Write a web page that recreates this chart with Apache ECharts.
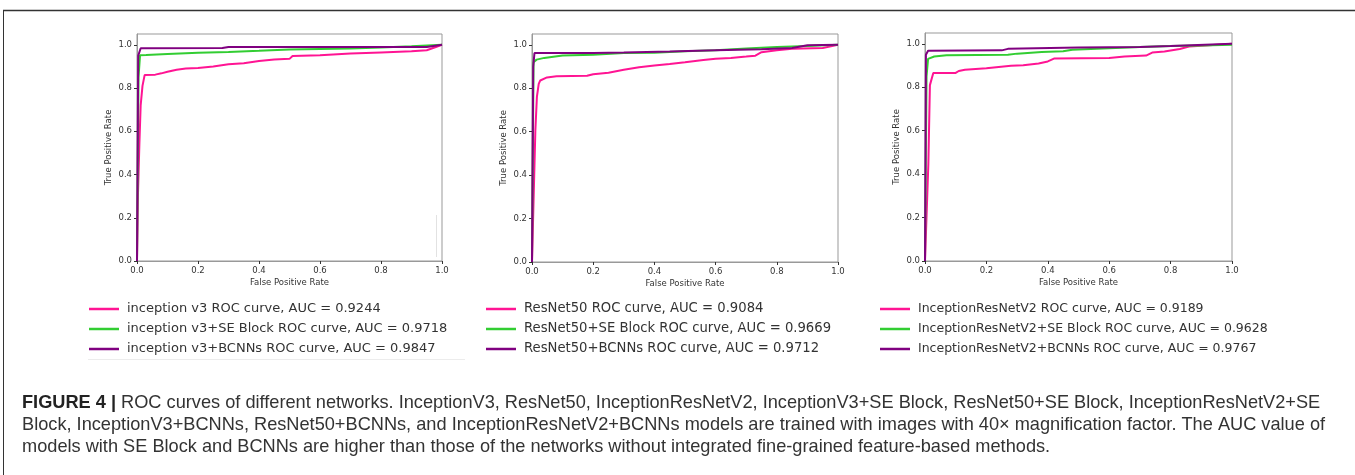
<!DOCTYPE html>
<html>
<head>
<meta charset="utf-8">
<script src="https://cdn.jsdelivr.net/npm/echarts@6/dist/echarts.min.js"></script>
<style>
  html, body { margin: 0; padding: 0; background: #fff; }
  #chart { width: 1355px; height: 475px; }
</style>
</head>
<body>
<div id="chart"></div>
<script>
  // [fpr, tpr] points
  const incV3 = [[0,0],[0.003,0.3],[0.008,0.55],[0.012,0.72],[0.018,0.81],[0.025,0.86],[0.06,0.862],[0.08,0.868],[0.1,0.875],[0.13,0.885],[0.16,0.89],[0.2,0.893],[0.25,0.9],[0.3,0.91],[0.35,0.915],[0.4,0.925],[0.45,0.932],[0.5,0.935],[0.51,0.948],[0.6,0.952],[0.7,0.96],[0.8,0.965],[0.9,0.97],[0.95,0.975],[0.98,0.99],[1,1]]
  const incV3Se = [[0,0],[0.005,0.85],[0.01,0.952],[0.03,0.953],[0.1,0.958],[0.2,0.963],[0.3,0.967],[0.4,0.972],[0.5,0.978],[0.6,0.981],[0.7,0.983],[0.8,0.987],[0.9,0.993],[1,1]]
  const incV3Bc = [[0,0],[0.004,0.95],[0.012,0.984],[0.28,0.985],[0.3,0.99],[0.95,0.99],[1,1]]

  const res50 = [[0,0],[0.011,0.607],[0.016,0.76],[0.022,0.82],[0.027,0.836],[0.049,0.85],[0.08,0.855],[0.18,0.858],[0.2,0.865],[0.25,0.872],[0.3,0.885],[0.35,0.897],[0.4,0.905],[0.45,0.912],[0.5,0.92],[0.56,0.93],[0.6,0.936],[0.65,0.94],[0.7,0.946],[0.73,0.95],[0.75,0.966],[0.8,0.975],[0.85,0.982],[0.95,0.986],[1,1]]
  const res50Se = [[0,0],[0.005,0.92],[0.015,0.932],[0.04,0.94],[0.1,0.951],[0.2,0.955],[0.3,0.962],[0.4,0.964],[0.5,0.971],[0.6,0.975],[0.7,0.983],[0.8,0.99],[0.9,0.995],[1,1]]
  const res50Bc = [[0,0],[0.004,0.9],[0.008,0.962],[0.2,0.963],[0.3,0.965],[0.45,0.969],[0.6,0.975],[0.75,0.98],[0.85,0.986],[0.9,0.998],[1,1]]

  const irv2 = [[0,0],[0.011,0.45],[0.016,0.81],[0.027,0.866],[0.1,0.866],[0.11,0.875],[0.13,0.881],[0.2,0.888],[0.28,0.899],[0.32,0.902],[0.37,0.91],[0.4,0.919],[0.42,0.932],[0.6,0.935],[0.65,0.942],[0.72,0.946],[0.74,0.96],[0.78,0.965],[0.83,0.976],[0.86,0.988],[0.9,0.991],[1,1]]
  const irv2Se = [[0,0],[0.005,0.85],[0.01,0.931],[0.03,0.942],[0.07,0.947],[0.27,0.95],[0.3,0.955],[0.38,0.962],[0.45,0.966],[0.48,0.973],[0.6,0.98],[0.7,0.985],[0.8,0.99],[0.9,0.993],[1,0.996]]
  const irv2Bc = [[0,0],[0.003,0.95],[0.01,0.968],[0.25,0.97],[0.27,0.977],[0.5,0.983],[0.7,0.986],[0.8,0.99],[1,1]]

  const names = [
    ['inception v3 ROC curve, AUC = 0.9244', 'inception v3+SE Block ROC curve, AUC = 0.9718', 'inception v3+BCNNs ROC curve, AUC = 0.9847'],
    ['ResNet50 ROC curve, AUC = 0.9084', 'ResNet50+SE Block ROC curve, AUC = 0.9669', 'ResNet50+BCNNs ROC curve, AUC = 0.9712'],
    ['InceptionResNetV2 ROC curve, AUC = 0.9189', 'InceptionResNetV2+SE Block ROC curve, AUC = 0.9628', 'InceptionResNetV2+BCNNs ROC curve, AUC = 0.9767'],
  ]
  const curves = [[incV3, incV3Se, incV3Bc], [res50, res50Se, res50Bc], [irv2, irv2Se, irv2Bc]]
  const color = ['#ff1493', '#32cd32', '#800080']
  const xTicks = [0, 0.2, 0.4, 0.6, 0.8, 1.0]
  const yTicks = [0, 0.2, 0.4, 0.6, 0.8, 1.0]

  const captionLines = [
    '{b|FIGURE 4 |} ROC curves of different networks. InceptionV3, ResNet50, InceptionResNetV2, InceptionV3+SE Block, ResNet50+SE Block, InceptionResNetV2+SE',
    'Block, InceptionV3+BCNNs, ResNet50+BCNNs, and InceptionResNetV2+BCNNs models are trained with images with 40\u00d7 magnification factor. The AUC value of',
    'models with SE Block and BCNNs are higher than those of the networks without integrated fine-grained feature-based methods.',
  ]

  const grids = [
    { left: 137, top: 34, width: 305, height: 227 },
    { left: 532, top: 34, width: 306, height: 228 },
    { left: 925, top: 33, width: 307, height: 228 },
  ]
  const legendLeft = [89, 486, 880]
  const legendFont = [13, 13.2, 12.5]

  const axisFont = { fontFamily: 'DejaVu Sans', fontSize: 8.5, color: '#333' }

  const grid = grids.map(g => ({ ...g, show: true, borderColor: '#999', borderWidth: 1, backgroundColor: '#fff' }))
  const xAxis = grids.map((g, i) => ({
    type: 'value', gridIndex: i, min: xTicks[0], max: xTicks[xTicks.length - 1], interval: 0.2,
    name: 'False Positive Rate', nameLocation: 'middle', nameGap: 17,
    nameTextStyle: axisFont,
    axisLine: { show: true, lineStyle: { color: '#999', width: 1 } },
    axisTick: { show: true, length: 3, lineStyle: { color: '#333' } },
    axisLabel: { ...axisFont, margin: 5, formatter: v => v.toFixed(1) },
    splitLine: { show: false },
  }))
  const yAxis = grids.map((g, i) => ({
    type: 'value', gridIndex: i, min: yTicks[0], max: 1.05, interval: 0.2,
    name: 'True Positive Rate', nameLocation: 'middle', nameGap: 24,
    nameTextStyle: axisFont,
    axisLine: { show: true, lineStyle: { color: '#999', width: 1 } },
    axisTick: { show: true, length: 3, lineStyle: { color: '#333' } },
    axisLabel: { ...axisFont, margin: 5, showMaxLabel: false, formatter: v => (v > 1.01 ? '' : v.toFixed(1)) },
    splitLine: { show: false },
  }))

  const series = []
  curves.forEach((set, i) => {
    set.forEach((data, k) => {
      series.push({
        type: 'line', name: names[i][k], xAxisIndex: i, yAxisIndex: i,
        data, symbol: 'none', showSymbol: false, silent: true,
        lineStyle: { color: color[k], width: 2 }, itemStyle: { color: color[k] },
      })
    })
  })

  const legend = names.map((list, i) => ({
    data: list, orient: 'vertical', left: legendLeft[i], top: 301, padding: 0,
    icon: 'rect', itemWidth: 30, itemHeight: 2.5, itemGap: 4, selectedMode: false,
    textStyle: { fontFamily: 'DejaVu Sans', fontSize: legendFont[i], color: '#333', lineHeight: 16, padding: [0, 0, 0, 3] },
  }))

  const graphic = [
    { type: 'line', shape: { x1: 3, y1: 10.5, x2: 1355, y2: 10.5 }, style: { stroke: '#333', lineWidth: 1.5 } },
    { type: 'line', shape: { x1: 3.5, y1: 10, x2: 3.5, y2: 475 }, style: { stroke: '#333', lineWidth: 1 } },
    { type: 'line', shape: { x1: 88, y1: 359.5, x2: 465, y2: 359.5 }, style: { stroke: '#ececec', lineWidth: 1 } },
    { type: 'line', shape: { x1: 436.5, y1: 215, x2: 436.5, y2: 257 }, style: { stroke: '#e2e2e2', lineWidth: 1 } },
  ]
  captionLines.forEach((t, i) => {
    graphic.push({
      type: 'text', left: 22, top: 394 + i * 22,
      style: {
        text: t, fontFamily: 'Liberation Sans', fontSize: 18.2, fill: '#333',
        rich: { b: { fontFamily: 'Liberation Sans', fontSize: 18.2, fontWeight: 'bold', fill: '#222' } },
      },
    })
  })

  const options = { animation: false, backgroundColor: '#fff', grid, xAxis, yAxis, series, legend, graphic }

  const chart = echarts.init(document.getElementById('chart'))
  chart.setOption(options)
  window.addEventListener('resize', function () {
    chart && chart.resize()
  })
</script>
</body>
</html>
